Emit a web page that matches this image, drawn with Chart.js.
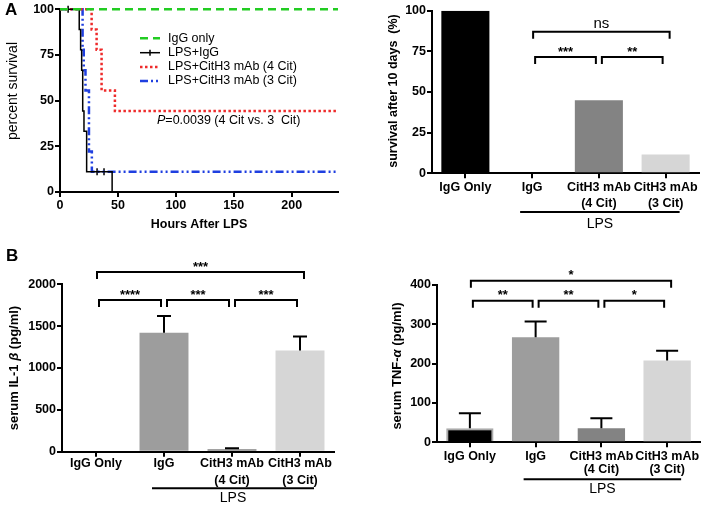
<!DOCTYPE html>
<html>
<head>
<meta charset="utf-8">
<title>CitH3 mAb: survival and serum cytokines</title>
<script src="https://cdn.jsdelivr.net/npm/chart.js@4.4.1/dist/chart.umd.min.js"></script>
<style>
  html, body { margin: 0; padding: 0; background: #fff; }
  #wrap { position: relative; width: 708px; height: 510px; overflow: hidden; }
  canvas { position: absolute; }
  .tag { position: absolute; font: bold 17px 'Liberation Sans', Arial, sans-serif; line-height: 1; }
</style>
</head>
<body>
<div id="wrap">
  <canvas id="survCurve" width="354" height="240" style="left:0;top:0"></canvas>
  <canvas id="survBar" width="354" height="240" style="left:354px;top:0"></canvas>
  <canvas id="il1bBar" width="354" height="270" style="left:0;top:240px"></canvas>
  <canvas id="tnfBar" width="354" height="270" style="left:354px;top:240px"></canvas>
  <div class="tag" style="left:5px;top:1px">A</div>
  <div class="tag" style="left:6px;top:247px">B</div>
</div>
<script>
const FONT = "'Liberation Sans', Arial, sans-serif";

// --- A: survival curves (hours after LPS vs percent survival) ---
const hourTicks = [0, 50, 100, 150, 200];
const iggOnlyHours = [0, 240];
const iggOnlySurv  = [100, 100];
const lpsIggHours  = [0, 16.6, 17.8, 18.7, 19.6, 20.7, 23, 45];
const lpsIggSurv   = [100, 88.9, 77.8, 66.7, 44.4, 33.3, 11.1, 0];
const censorHours  = [7, 32, 38];
const censorSurv   = [100, 11.1, 11.1];
const cit4Hours    = [0, 27.3, 31.6, 35.9, 47.4, 240];
const cit4Surv     = [100, 88.9, 77.8, 55.6, 44.4, 44.4];
const cit3Hours    = [0, 19.5, 20.5, 22, 25, 27.5, 240];
const cit3Surv     = [100, 77.8, 66.7, 55.6, 22.2, 11.1, 11.1];
const curveNames   = ['IgG only', 'LPS+IgG', 'LPS+CitH3 mAb (4 Cit)', 'LPS+CitH3 mAb (3 Cit)'];
const pValueText   = '=0.0039 (4 Cit vs. 3  Cit)';

// --- bar panels ---
const groupLabels = [['IgG Only'], ['IgG'], ['CitH3 mAb', '(4 Cit)'], ['CitH3 mAb', '(3 Cit)']];
const barColors   = ['#000000', '#9d9d9d', '#838383', '#d6d6d6'];
const survival10d = [100, 0, 45, 11.5];
const il1bMean    = [0, 1420, 28, 1210];
const il1bSem     = [0, 200, 12, 165];
const tnfMean     = [36, 267, 36, 208];
const tnfSem      = [38, 40, 25, 25];
// comparisons: [group a, group b, bracket level (axis units), label]
const survSig = [[1, 3, 87, 'ns'], [1, 2, 71.5, '***'], [2, 3, 71.5, '**']];
const il1bSig = [[0, 3, 2147, '***'], [0, 1, 1812, '****'], [1, 2, 1812, '***'], [2, 3, 1812, '***']];
const tnfSig  = [[0, 3, 411, '*'], [0, 1, 360, '**'], [1, 2, 360, '**'], [2, 3, 360, '*']];
const lpsSpan = [1, 3];

Chart.defaults.font.family = FONT;
Chart.defaults.color = '#000';

const pts = (xs, ys) => xs.map((x, i) => ({ x: x, y: ys[i] }));
const plain = v => String(v);

function tickFont(lh) {
  return { family: FONT, size: 12.5, weight: 'bold', lineHeight: lh || 1.2 };
}

function axis(opts) {
  return Object.assign({
    border: { color: '#000', width: 2 },
    grid: { drawOnChartArea: false, color: '#000', lineWidth: 2, tickLength: 5 },
  }, opts);
}

// rotated y title made of several font runs
function drawRotated(ctx, cx, cy, parts) {
  ctx.save();
  ctx.translate(cx, cy);
  ctx.rotate(-Math.PI / 2);
  ctx.textBaseline = 'middle';
  ctx.textAlign = 'left';
  ctx.fillStyle = '#000';
  let total = 0;
  const widths = parts.map(p => { ctx.font = p[1]; const w = ctx.measureText(p[0]).width; total += w; return w; });
  let x = -total / 2;
  parts.forEach((p, i) => { ctx.font = p[1]; ctx.fillText(p[0], x, 0); x += widths[i]; });
  ctx.restore();
}

// survival curve extras: legend, p value, x title, y title
const curveOverlay = {
  id: 'curveOverlay',
  afterDraw(chart) {
    const ctx = chart.ctx;
    const area = chart.chartArea;
    ctx.save();
    // legend
    const rows = [38.3, 52.7, 66.9, 81];
    for (let i = 0; i < 4; i++) {
      const ds = chart.data.datasets[i];
      const y = rows[i];
      ctx.strokeStyle = ds.borderColor;
      ctx.lineWidth = ds.borderWidth;
      ctx.setLineDash(ds.borderDash || []);
      ctx.beginPath();
      ctx.moveTo(140, y);
      ctx.lineTo(160, y);
      ctx.stroke();
      if (i === 1) {
        ctx.setLineDash([]);
        ctx.beginPath();
        ctx.moveTo(150, y - 3);
        ctx.lineTo(150, y + 3);
        ctx.stroke();
      }
      ctx.setLineDash([]);
      ctx.fillStyle = '#000';
      ctx.font = '12.5px ' + FONT;
      ctx.textBaseline = 'middle';
      ctx.textAlign = 'left';
      ctx.fillText(curveNames[i], 168, y);
    }
    // p value
    ctx.font = 'italic 12.5px ' + FONT;
    ctx.fillText('P', 157, 121);
    const pw = ctx.measureText('P').width;
    ctx.font = '12.5px ' + FONT;
    ctx.fillText(pValueText, 157 + pw, 121);
    // x title
    ctx.font = 'bold 12.5px ' + FONT;
    ctx.textAlign = 'center';
    ctx.fillText('Hours After LPS', (area.left + area.right) / 2, 225);
    ctx.restore();
    drawRotated(ctx, 13.5, 91, [['percent survival', '14px ' + FONT]]);
  }
};

new Chart(document.getElementById('survCurve'), {
  type: 'line',
  data: {
    datasets: [
      { data: pts(iggOnlyHours, iggOnlySurv), borderColor: '#22cc22', borderWidth: 2.5, borderDash: [8, 5] },
      { data: pts(lpsIggHours, lpsIggSurv), borderColor: '#000000', borderWidth: 1.5 },
      { data: pts(cit4Hours, cit4Surv), borderColor: '#ee2b2b', borderWidth: 2.5, borderDash: [2.5, 2.5] },
      { data: pts(cit3Hours, cit3Surv), borderColor: '#1f3fe0', borderWidth: 2.5, borderDash: [8, 3, 2, 3, 2, 3] },
      { data: pts(censorHours, censorSurv), showLine: false, pointStyle: 'line', rotation: 90,
        pointRadius: 3.5, borderColor: '#000', borderWidth: 1.5 }
    ]
  },
  options: {
    responsive: false,
    animation: false,
    layout: { padding: { top: 9.3, right: 16, left: 0, bottom: 0 } },
    elements: { line: { stepped: true, fill: false }, point: { radius: 0 } },
    datasets: { line: { clip: false } },
    plugins: { legend: { display: false }, tooltip: { enabled: false } },
    scales: {
      x: axis({
        type: 'linear', min: 0, max: 240,
        ticks: { stepSize: 50, includeBounds: false, font: tickFont(), padding: 1, maxRotation: 0, callback: plain },
        afterBuildTicks: s => { s.ticks = hourTicks.map(v => ({ value: v })); },
        afterFit: s => { s.height = 48; }
      }),
      y: axis({
        min: 0, max: 100,
        ticks: { stepSize: 25, font: tickFont(), padding: 1, callback: plain },
        afterFit: s => { s.width = 60; }
      })
    }
  },
  plugins: [curveOverlay]
});

// bar panels: error bars, significance brackets, LPS grouping line, y title
function barOverlay(cfg) {
  return {
    id: 'barOverlay',
    afterDatasetsDraw(chart) {
      if (!cfg.sem) return;
      const ctx = chart.ctx, xs = chart.scales.x, ys = chart.scales.y;
      ctx.save();
      ctx.strokeStyle = '#000';
      ctx.lineWidth = 2;
      cfg.sem.forEach((e, i) => {
        if (!e) return;
        const cx = xs.getPixelForValue(i);
        const top = ys.getPixelForValue(cfg.mean[i] + e);
        ctx.beginPath();
        ctx.moveTo(cx, ys.getPixelForValue(cfg.mean[i]));
        ctx.lineTo(cx, top);
        ctx.moveTo(cx - cfg.cap / 2, top);
        ctx.lineTo(cx + cfg.cap / 2, top);
        ctx.stroke();
      });
      ctx.restore();
    },
    afterDraw(chart) {
      const ctx = chart.ctx, xs = chart.scales.x, ys = chart.scales.y;
      const area = chart.chartArea;
      ctx.save();
      ctx.strokeStyle = '#000';
      ctx.fillStyle = '#000';
      ctx.lineWidth = 2;
      ctx.textAlign = 'center';
      ctx.textBaseline = 'middle';
      cfg.sig.forEach(([a, b, level, label]) => {
        const wide = b - a > 1;
        const x1 = xs.getPixelForValue(a) + (wide ? 1 : 3);
        const x2 = xs.getPixelForValue(b) + (wide ? 4 : -3);
        const y = ys.getPixelForValue(level);
        ctx.beginPath();
        ctx.moveTo(x1, y + 7);
        ctx.lineTo(x1, y);
        ctx.lineTo(x2, y);
        ctx.lineTo(x2, y + 7);
        ctx.stroke();
        if (label === 'ns') {
          ctx.font = '15px ' + FONT;
          ctx.fillText(label, (x1 + x2) / 2, y - 8);
        } else {
          ctx.font = 'bold 13px ' + FONT;
          ctx.fillText(label, (x1 + x2) / 2, y - 5);
        }
      });
      // LPS grouping line
      const lx1 = xs.getPixelForValue(lpsSpan[0]) - 12;
      const lx2 = xs.getPixelForValue(lpsSpan[1]) + 14;
      const ly = area.bottom + cfg.lpsOff;
      ctx.beginPath();
      ctx.moveTo(lx1, ly);
      ctx.lineTo(lx2, ly);
      ctx.stroke();
      ctx.font = '14px ' + FONT;
      ctx.fillText('LPS', (lx1 + lx2) / 2, ly + cfg.lpsText);
      ctx.restore();
      drawRotated(ctx, cfg.title[0], cfg.title[1], cfg.title[2]);
    }
  };
}

function barChart(id, values, o) {
  return new Chart(document.getElementById(id), {
    type: 'bar',
    data: {
      labels: groupLabels,
      datasets: [{
        data: values,
        backgroundColor: barColors,
        borderColor: o.borderColor || barColors,
        borderWidth: o.borderWidth || 0,
        borderSkipped: 'bottom'
      }]
    },
    options: {
      responsive: false,
      animation: false,
      layout: { padding: { top: o.top, right: o.right, left: 0, bottom: 0 } },
      plugins: { legend: { display: false }, tooltip: { enabled: false } },
      scales: {
        x: axis({
          grid: { drawOnChartArea: false, color: '#000', lineWidth: 2, tickLength: 5, offset: false },
          ticks: { font: tickFont(o.labelLh), padding: o.labelPad, autoSkip: false, maxRotation: 0, minRotation: 0 },
          afterFit: s => { s.height = o.xHeight; }
        }),
        y: axis({
          min: 0, max: o.max,
          ticks: { stepSize: o.step, font: tickFont(), padding: 1, callback: plain },
          afterFit: s => { s.width = o.yWidth; }
        })
      }
    },
    plugins: [barOverlay(o)]
  });
}

barChart('survBar', survival10d, {
  top: 10.7, right: 9, yWidth: 78, xHeight: 66.7, max: 100, step: 25,
  labelLh: 1.28, labelPad: 1, sig: survSig, lpsOff: 38.7, lpsText: 12,
  title: [40, 91, [['survival after 10 days  (%)', 'bold 12.5px ' + FONT]]]
});

barChart('il1bBar', il1bMean, {
  top: 44.3, right: 20, yWidth: 62, xHeight: 58.3, max: 2000, step: 500,
  labelLh: 1.38, labelPad: -2, sig: il1bSig, mean: il1bMean, sem: il1bSem, cap: 14,
  lpsOff: 36.6, lpsText: 10,
  title: [14.5, 128, [['serum IL-1 ', 'bold 13px ' + FONT], ['\u03B2', 'italic bold 13px ' + FONT], [' (pg/ml)', 'bold 13px ' + FONT]]]
});

barChart('tnfBar', tnfMean, {
  top: 45, right: 8, yWidth: 83, xHeight: 67.7, max: 400, step: 100,
  labelLh: 1.02, labelPad: 3, sig: tnfSig, mean: tnfMean, sem: tnfSem, cap: 22,
  lpsOff: 37, lpsText: 10,
  borderColor: ['#aaaaaa', '#a8a8a8', '#8c8c8c', '#dadada'], borderWidth: [2, 0, 0, 0],
  title: [43, 126, [['serum TNF-', 'bold 13px ' + FONT], ['\u03B1', 'italic bold 13px ' + FONT], [' (pg/ml)', 'bold 13px ' + FONT]]]
});
</script>
</body>
</html>
